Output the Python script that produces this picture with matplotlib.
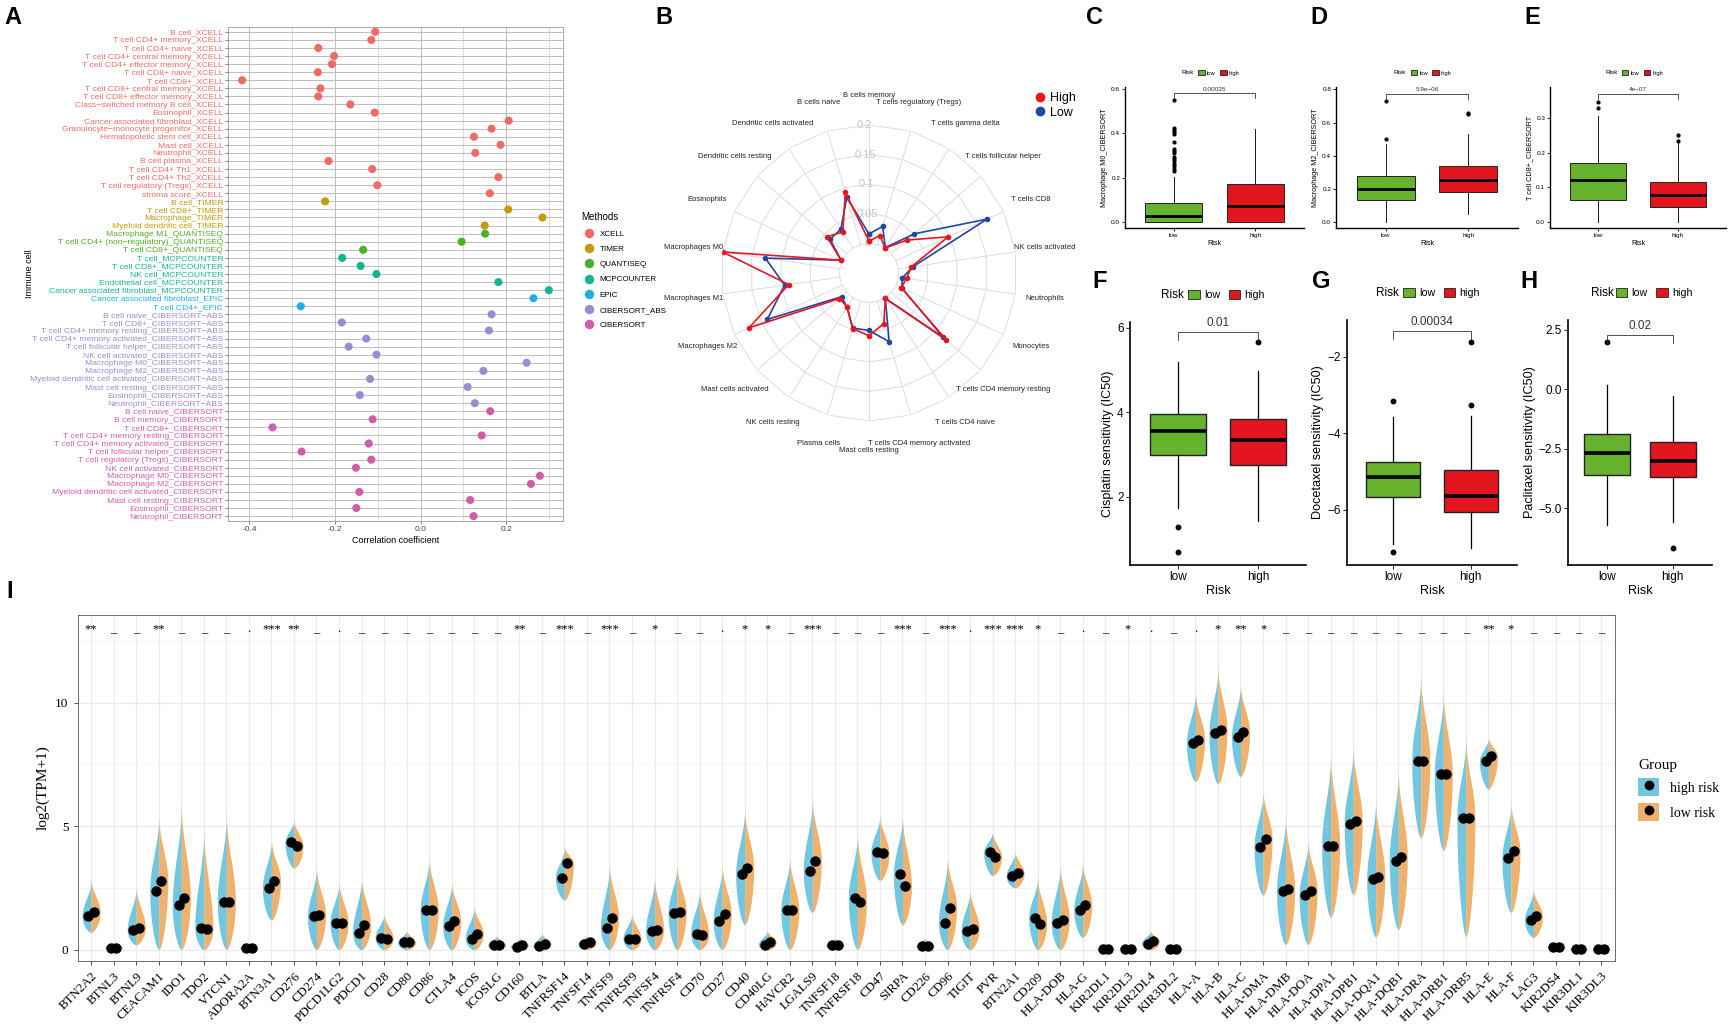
import numpy as np
import matplotlib
matplotlib.use("Agg")
import matplotlib.pyplot as plt
from matplotlib.lines import Line2D
from matplotlib.patches import Patch

W, H = 1733, 1036
SANS = "Liberation Sans"
SERIF = "Liberation Serif"
plt.rcParams["font.family"] = [SANS, "DejaVu Sans"]

# ---------------- panel A: risk score vs immune infiltration ----------------
xcell_cells = ["B cell", "T cell CD4+ memory", "T cell CD4+ naive", "T cell CD4+ central memory",
               "T cell CD4+ effector memory", "T cell CD8+ naive", "T cell CD8+",
               "T cell CD8+ central memory", "T cell CD8+ effector memory",
               "Class-switched memory B cell", "Eosinophil", "Cancer associated fibroblast",
               "Granulocyte-monocyte progenitor", "Hematopoietic stem cell", "Mast cell",
               "Neutrophil", "B cell plasma", "T cell CD4+ Th1", "T cell CD4+ Th2",
               "T cell regulatory (Tregs)", "stroma score"]
xcell_r = [-0.106, -0.115, -0.239, -0.202, -0.207, -0.240, -0.417, -0.234, -0.239, -0.164,
           -0.107, 0.206, 0.166, 0.125, 0.187, 0.128, -0.215, -0.113, 0.182, -0.101, 0.162]
timer_cells = ["B cell", "T cell CD8+", "Macrophage", "Myeloid dendritic cell"]
timer_r = [-0.223, 0.205, 0.285, 0.150]
quant_cells = ["Macrophage M1", "T cell CD4+ (non-regulatory)", "T cell CD8+"]
quant_r = [0.151, 0.096, -0.134]
mcp_cells = ["T cell", "T cell CD8+", "NK cell", "Endothelial cell", "Cancer associated fibroblast"]
mcp_r = [-0.183, -0.140, -0.103, 0.182, 0.300]
epic_cells = ["Cancer associated fibroblast", "T cell CD4+"]
epic_r = [0.264, -0.280]
abs_cells = ["B cell naive", "T cell CD8+", "T cell CD4+ memory resting",
             "T cell CD4+ memory activated", "T cell follicular helper", "NK cell activated",
             "Macrophage M0", "Macrophage M2", "Myeloid dendritic cell activated",
             "Mast cell resting", "Eosinophil", "Neutrophil"]
abs_r = [0.166, -0.184, 0.160, -0.127, -0.168, -0.103, 0.248, 0.147, -0.118, 0.110, -0.142, 0.127]
cib_cells = ["B cell naive", "B cell memory", "T cell CD8+", "T cell CD4+ memory resting",
             "T cell CD4+ memory activated", "T cell follicular helper",
             "T cell regulatory (Tregs)", "NK cell activated", "Macrophage M0", "Macrophage M2",
             "Myeloid dendritic cell activated", "Mast cell resting", "Eosinophil", "Neutrophil"]
cib_r = [0.163, -0.112, -0.346, 0.143, -0.121, -0.278, -0.115, -0.151, 0.279, 0.258, -0.143,
         0.116, -0.150, 0.124]

methods = ["XCELL", "TIMER", "QUANTISEQ", "MCPCOUNTER", "EPIC", "CIBERSORT-ABS", "CIBERSORT"]
method_legend = ["XCELL", "TIMER", "QUANTISEQ", "MCPCOUNTER", "EPIC", "CIBERSORT_ABS", "CIBERSORT"]
method_colors = ["#EE6C65", "#C39A0A", "#4FAE2A", "#14B58E", "#1DB1E2", "#9D8BD2", "#D05DAA"]
method_data = [(xcell_cells, xcell_r), (timer_cells, timer_r), (quant_cells, quant_r),
               (mcp_cells, mcp_r), (epic_cells, epic_r), (abs_cells, abs_r), (cib_cells, cib_r)]

# ---------------- panel B: CIBERSORT radar ----------------
radar_cells = ["B cells memory", "T cells regulatory (Tregs)", "T cells gamma delta",
               "T cells follicular helper", "T cells CD8", "NK cells activated", "Neutrophils",
               "Monocytes", "T cells CD4 memory resting", "T cells CD4 naive",
               "T cells CD4 memory activated", "Mast cells resting", "Plasma cells",
               "NK cells resting", "Mast cells activated", "Macrophages M2", "Macrophages M1",
               "Macrophages M0", "Eosinophils", "Dendritic cells resting",
               "Dendritic cells activated", "B cells naive"]
radar_high = [0.004, 0.016, 0.000, 0.035, 0.097, 0.022, 0.014, 0.010, 0.123, 0.001, 0.039,
              0.056, 0.048, 0.018, 0.016, 0.173, 0.087, 0.200, 0.002, 0.044, 0.032, 0.092]
radar_low = [0.016, 0.032, 0.001, 0.051, 0.169, 0.025, 0.007, 0.011, 0.116, 0.001, 0.071,
             0.047, 0.047, 0.019, 0.011, 0.139, 0.094, 0.127, 0.002, 0.037, 0.038, 0.083]
radar_rings = [0, 0.05, 0.1, 0.15, 0.2]

# ---------------- panels C-H: boxplots (whislo, q1, med, q3, whishi) ----------------
risk_groups = ["low", "high"]
c_low, c_low_out = [0.0, 0.0, 0.025, 0.086, 0.203], [0.55, 0.425, 0.415, 0.405, 0.395, 0.36, 0.33,
                                                     0.32, 0.31, 0.295, 0.285, 0.275, 0.26, 0.25,
                                                     0.24, 0.23]
c_high, c_high_out = [0.0, 0.0, 0.072, 0.170, 0.418], []
d_low, d_low_out = [0.0, 0.132, 0.199, 0.275, 0.469], [0.50, 0.73]
d_high, d_high_out = [0.046, 0.182, 0.251, 0.337, 0.533], [0.65, 0.66]
e_low, e_low_out = [0.0, 0.064, 0.121, 0.169, 0.307], [0.329, 0.348]
e_high, e_high_out = [0.0, 0.042, 0.077, 0.115, 0.227], [0.233, 0.252]
f_low, f_low_out = [1.74, 3.00, 3.55, 3.95, 5.19], [1.29, 0.70]
f_high, f_high_out = [1.43, 2.76, 3.34, 3.83, 4.97], [5.65]
g_low, g_low_out = [-6.90, -5.67, -5.13, -4.74, -3.57], [-3.15, -7.10]
g_high, g_high_out = [-7.00, -6.06, -5.63, -4.96, -3.55], [-3.26, -1.61]
h_low, h_low_out = [-5.70, -3.60, -2.70, -1.90, 0.20], [2.00]
h_high, h_high_out = [-5.60, -3.70, -3.00, -2.20, -0.30], [-6.70]

# ---------------- panel I: immune checkpoint expression ----------------
genes = ["BTN2A2", "BTNL3", "BTNL9", "CEACAM1", "IDO1", "TDO2", "VTCN1", "ADORA2A", "BTN3A1",
         "CD276", "CD274", "PDCD1LG2", "PDCD1", "CD28", "CD80", "CD86", "CTLA4", "ICOS",
         "ICOSLG", "CD160", "BTLA", "TNFRSF14", "TNFSF14", "TNFSF9", "TNFRSF9", "TNFSF4",
         "TNFRSF4", "CD70", "CD27", "CD40", "CD40LG", "HAVCR2", "LGALS9", "TNFSF18",
         "TNFRSF18", "CD47", "SIRPA", "CD226", "CD96", "TIGIT", "PVR", "BTN2A1", "CD209",
         "HLA-DOB", "HLA-G", "KIR2DL1", "KIR2DL3", "KIR2DL4", "KIR3DL2", "HLA-A", "HLA-B",
         "HLA-C", "HLA-DMA", "HLA-DMB", "HLA-DOA", "HLA-DPA1", "HLA-DPB1", "HLA-DQA1",
         "HLA-DQB1", "HLA-DRA", "HLA-DRB1", "HLA-DRB5", "HLA-E", "HLA-F", "LAG3", "KIR2DS4",
         "KIR3DL1", "KIR3DL3"]
med_high = [1.35, 0.09, 0.80, 2.40, 1.80, 0.90, 1.95, 0.07, 2.50, 4.35, 1.35, 1.10, 0.70, 0.50,
            0.30, 1.60, 0.95, 0.45, 0.20, 0.12, 0.15, 2.90, 0.25, 0.90, 0.45, 0.75, 1.50, 0.65,
            1.15, 3.05, 0.20, 1.60, 3.20, 0.18, 2.10, 3.95, 3.05, 0.15, 1.10, 0.75, 3.95, 3.00,
            1.30, 1.10, 1.60, 0.05, 0.05, 0.25, 0.05, 8.35, 8.75, 8.60, 4.15, 2.40, 2.20, 4.20,
            5.10, 2.85, 3.60, 7.65, 7.10, 5.35, 7.65, 3.70, 1.20, 0.10, 0.05, 0.05]
med_low = [1.53, 0.09, 0.90, 2.80, 2.10, 0.85, 1.95, 0.07, 2.80, 4.20, 1.40, 1.10, 1.00, 0.45,
           0.30, 1.60, 1.15, 0.65, 0.20, 0.18, 0.22, 3.50, 0.30, 1.30, 0.45, 0.80, 1.55, 0.60,
           1.45, 3.30, 0.30, 1.60, 3.60, 0.18, 1.95, 3.90, 2.60, 0.15, 1.70, 0.85, 3.75, 3.10,
           1.05, 1.20, 1.80, 0.05, 0.05, 0.35, 0.05, 8.50, 8.90, 8.80, 4.50, 2.45, 2.40, 4.20,
           5.20, 2.95, 3.75, 7.65, 7.10, 5.35, 7.85, 4.00, 1.35, 0.10, 0.05, 0.05]
vio_lo = [0.7, 0.0, 0.2, 0.0, 0.0, 0.0, 0.0, 0.0, 1.2, 3.3, 0.0, 0.0, 0.0, 0.0, 0.0, 0.0, 0.0,
          0.0, 0.0, 0.0, 0.0, 2.0, 0.0, 0.0, 0.0, 0.0, 0.0, 0.0, 0.0, 1.0, 0.0, 0.0, 1.5, 0.0,
          0.0, 2.8, 1.0, 0.0, 0.0, 0.0, 3.0, 2.5, 0.0, 0.0, 0.5, 0.0, 0.0, 0.0, 0.0, 6.8, 6.7,
          7.0, 2.2, 0.2, 0.2, 1.3, 2.2, 0.5, 0.8, 4.5, 4.0, 0.5, 6.5, 1.5, 0.5, 0.0, 0.0, 0.0]
vio_hi = [2.9, 0.3, 2.6, 5.5, 6.0, 5.0, 5.6, 0.3, 4.5, 5.3, 3.4, 2.8, 3.0, 1.5, 0.8, 3.8, 2.8,
          1.8, 0.6, 0.5, 0.7, 4.2, 0.6, 3.5, 1.5, 3.0, 3.5, 2.5, 3.5, 5.8, 0.8, 3.8, 6.2, 0.5,
          4.8, 5.5, 5.5, 0.5, 3.8, 2.5, 4.8, 4.0, 3.0, 3.5, 3.6, 0.1, 0.1, 0.8, 0.15, 10.5,
          11.5, 10.8, 6.5, 5.5, 4.5, 8.0, 8.3, 6.2, 7.4, 11.2, 10.5, 8.7, 8.6, 6.0, 2.5, 0.3,
          0.2, 0.1]
sig = ["**", "_", "_", "**", "_", "_", "_", ".", "***", "**", "_", ".", "_", "_", "_", "_", "_",
       "_", "_", "**", "_", "***", "_", "***", "_", "*", "_", "_", ".", "*", "*", "_", "***",
       "_", "_", "_", "***", "_", "***", ".", "***", "***", "*", "_", ".", "_", "*", ".", "_",
       ".", "*", "**", "*", "_", "_", "_", "_", "_", "_", "_", "_", "_", "**", "*", "_", "_",
       "_", "_"]

GREEN, RED = "#67B22D", "#E3161F"
BLUE_I, ORANGE_I = "#72C6E0", "#EEB26E"

fig = plt.figure(figsize=(W / 100, H / 100), dpi=100)


def add_ax(x0, y0, x1, y1, **kw):
    return fig.add_axes([x0 / W, 1 - y1 / H, (x1 - x0) / W, (y1 - y0) / H], **kw)


def letter(x, y, s):
    fig.text(x / W, 1 - y / H, s, fontsize=17, fontweight="bold", ha="left", va="center")


# ---------------- A ----------------
ax = add_ax(228, 27, 563, 521)
labels, vals, cols = [], [], []
for m, c, (cells, r) in zip(methods, method_colors, method_data):
    labels += [f"{cell}_{m}".replace("-", "\u2212") for cell in cells]
    vals += r
    cols += [c] * len(cells)
n = len(labels)
ypos = np.arange(n, 0, -1)
ax.scatter(vals, ypos, s=34, c=cols, zorder=3, linewidths=0)
ax.set_ylim(0.4, n + 0.6)
ax.set_xlim(-0.45, 0.333)
ax.set_yticks(ypos)
ax.set_yticklabels(labels, fontsize=6.1)
for t, c in zip(ax.get_yticklabels(), cols):
    t.set_color(c)
ax.set_xticks([-0.4, -0.2, 0.0, 0.2])
ax.set_xticklabels(["-0.4", "-0.2", "0.0", "0.2"], fontsize=6, color="#444444")
ax.set_xticks([-0.3, -0.1, 0.1, 0.3], minor=True)
ax.tick_params(axis="both", length=2, width=0.5, color="#555555", pad=1.5)
ax.tick_params(axis="x", which="minor", length=0)
ax.grid(which="major", color="#BDBDBD", lw=0.7)
ax.grid(which="minor", axis="x", color="#D6D6D6", lw=0.6)
ax.set_axisbelow(True)
for s in ax.spines.values():
    s.set_color("#999999")
    s.set_linewidth(0.6)
ax.set_xlabel("Correlation coefficient", fontsize=6.5, labelpad=2)
fig.text(30 / W, 1 - 274 / H, "Immune cell", rotation=90, fontsize=6.5, ha="center", va="center")
handles = [Line2D([], [], marker="o", ls="", color=c, ms=5.8) for c in method_colors]
fig.legend(handles, method_legend, title="Methods", loc="upper left",
           bbox_to_anchor=(574 / W, 1 - 205 / H), frameon=False, fontsize=5.8,
           title_fontsize=7, labelspacing=0.95, handletextpad=0.3, alignment="left")
letter(4, 17, "A")

# ---------------- B ----------------
cx, cy, R = 869, 273, 148
axb = add_ax(cx - R, cy - R, cx + R, cy + R, projection="polar")
axb.set_theta_zero_location("N")
axb.set_theta_direction(-1)
axb.set_ylim(-0.05, 0.2)
theta = np.linspace(0, 2 * np.pi, len(radar_cells), endpoint=False)
tclose = np.r_[theta, theta[0]]
for v in radar_rings:
    axb.plot(tclose, [v] * len(tclose), color="#DCDCDC", lw=0.7, zorder=1)
for t in theta:
    axb.plot([t, t], [0, 0.2], color="#DCDCDC", lw=0.7, zorder=1)
for v in radar_rings:
    axb.text(-0.03, v, f"{v:g}", color="#C4C4C4", fontsize=8, ha="center", va="center",
             zorder=2)
for t, name in zip(theta, radar_cells):
    axb.text(t, 0.25, name, fontsize=5.5, ha="center", va="center", color="#222222")
axb.plot(tclose, np.r_[radar_low, radar_low[0]], color="#2146A3", lw=1.2, marker="o", ms=3,
         zorder=3)
axb.plot(tclose, np.r_[radar_high, radar_high[0]], color="#E8161E", lw=1.2, marker="o", ms=3,
         zorder=4)
axb.set_xticks([])
axb.set_yticks([])
axb.grid(False)
axb.spines["polar"].set_visible(False)
axb.set_facecolor("none")
fig.legend([Line2D([], [], marker="o", ls="", color="#E8161E", ms=6),
            Line2D([], [], marker="o", ls="", color="#2146A3", ms=6)], ["High", "Low"],
           loc="upper left", bbox_to_anchor=(1021 / W, 1 - 81 / H), frameon=False, fontsize=9,
           labelspacing=0.2, handletextpad=0.2, handlelength=1.2)
letter(655, 17, "B")


# ---------------- C-H ----------------
def risk_box(box, low, low_out, high, high_out, ylim, yticks, ylabel, pval, pbar, small):
    axx = add_ax(*box)
    stats = []
    for q, out in ((low, low_out), (high, high_out)):
        stats.append(dict(whislo=q[0], q1=q[1], med=q[2], q3=q[3], whishi=q[4], fliers=out))
    fs = 4.6 if small else 8.5
    lw = 0.7 if small else 1.0
    bp = axx.bxp(stats, positions=[1, 2], widths=0.7, patch_artist=True, showcaps=False,
                 boxprops=dict(lw=lw, edgecolor="#222222"),
                 medianprops=dict(color="black", lw=2.0 if small else 2.6),
                 whiskerprops=dict(lw=lw * 0.9),
                 flierprops=dict(marker="o", mfc="black", mec="black",
                                 ms=2.0 if small else 3.2))
    for p, c in zip(bp["boxes"], (GREEN, RED)):
        p.set_facecolor(c)
    axx.set_xlim(0.4, 2.6)
    axx.set_ylim(*ylim)
    axx.set_xticks([1, 2])
    axx.set_xticklabels(risk_groups)
    axx.set_yticks(yticks)
    axx.tick_params(labelsize=fs, length=2 if small else 3, width=0.6, pad=1.5)
    for s in ("top", "right"):
        axx.spines[s].set_visible(False)
    for s in ("left", "bottom"):
        axx.spines[s].set_linewidth(1.0 if small else 1.2)
    axx.set_ylabel(ylabel, fontsize=fs + 0.6, labelpad=2)
    axx.set_xlabel("Risk", fontsize=fs + 0.6, labelpad=1.5)
    d = (ylim[1] - ylim[0]) * 0.035
    axx.plot([1, 1, 2, 2], [pbar - d, pbar, pbar, pbar - d], color="#333333", lw=0.6,
             clip_on=False)
    axx.text(1.5, pbar + d * 0.3, pval, ha="center", va="bottom", fontsize=fs, color="#333333")
    ly = 1.1 if small else 1.11
    lx = 0.35 if small else 0.24
    axx.text(lx, ly, "Risk", transform=axx.transAxes, fontsize=fs, ha="center", va="center")
    axx.legend([Patch(fc=GREEN, ec="#222222", lw=0.6), Patch(fc=RED, ec="#222222", lw=0.6)],
               risk_groups, loc="center left", bbox_to_anchor=(lx + (0.06 if small else 0.09), ly),
               ncol=2, frameon=False, fontsize=fs * 0.9, handlelength=1.1, handleheight=0.9,
               handletextpad=0.4, columnspacing=0.8, borderaxespad=0, borderpad=0)
    return axx


risk_box((1125, 87, 1304, 228), c_low, c_low_out, c_high, c_high_out, (-0.028, 0.609),
         [0.0, 0.2, 0.4, 0.6], "Macrophage M0_CIBERSORT", "0.00035", 0.58, True)
risk_box((1336, 87, 1518, 228), d_low, d_low_out, d_high, d_high_out, (-0.038, 0.815),
         [0.0, 0.2, 0.4, 0.6, 0.8], "Macrophage M2_CIBERSORT", "5.9e\u221206", 0.775, True)
risk_box((1550, 87, 1726, 228), e_low, e_low_out, e_high, e_high_out, (-0.018, 0.39),
         [0.0, 0.1, 0.2, 0.3], "T cell CD8+_CIBERSORT", "4e\u221207", 0.37, True)
risk_box((1130, 322, 1306, 565), f_low, f_low_out, f_high, f_high_out, (0.39, 6.13),
         [2, 4, 6], "Cisplatin sensitivity (IC50)", "0.01", 5.9, False)
risk_box((1347, 320, 1517, 565), g_low, g_low_out, g_high, g_high_out, (-7.44, -1.04),
         [-6, -4, -2], "Docetaxel sensitivity (IC50)", "0.00034", -1.32, False)
axh = risk_box((1568, 320, 1712, 565), h_low, h_low_out, h_high, h_high_out, (-7.4, 2.92),
               [-5.0, -2.5, 0.0, 2.5], "Paclitaxel sensitivity (IC50)", "0.02", 2.3, False)
axh.set_yticklabels(["\u22125.0", "\u22122.5", "0.0", "2.5"])
letter(1086, 17, "C")
letter(1310, 17, "D")
letter(1524, 17, "E")
letter(1092, 282, "F")
letter(1312, 282, "G")
letter(1520, 282, "H")

# ---------------- I ----------------
axi = add_ax(77.6, 615, 1614.6, 961)


def half_profile(lo, med, hi, hw=0.4):
    med = min(max(med, lo), hi)
    t1 = np.linspace(0, 1, 24)
    t2 = np.linspace(0, 1, 48)[1:]
    y = np.r_[lo + (med - lo) * t1, med + (hi - med) * t2]
    w = np.r_[np.sin(np.pi / 2 * t1) ** 0.6, np.cos(np.pi / 2 * t2) ** 2.2]
    return y, hw * w


xs = np.arange(1, len(genes) + 1)
for x, lo, hi, mh, ml in zip(xs, vio_lo, vio_hi, med_high, med_low):
    for side, med, col in ((-1, mh, BLUE_I), (1, ml, ORANGE_I)):
        y, w = half_profile(lo, med, hi)
        axi.fill_betweenx(y, x, x + side * w, color=col, lw=0, zorder=2)
    axi.plot([x - 0.12, x + 0.12], [mh, ml], "o", color="black", ms=6.5, zorder=3)
for x, s in zip(xs, sig):
    axi.text(x, 12.85, s, ha="center", va="baseline", fontsize=9, family=SERIF)
axi.set_xlim(0.4, len(genes) + 0.6)
axi.set_ylim(-0.45, 13.54)
axi.set_xticks(xs)
axi.set_xticklabels(genes, rotation=45, ha="right", rotation_mode="anchor", fontsize=9.3,
                    family=SERIF)
axi.set_yticks([0, 5, 10])
axi.set_yticklabels(["0", "5", "10"], fontsize=9.5, family=SERIF)
axi.set_yticks([2.5, 7.5, 12.5], minor=True)
axi.tick_params(axis="both", length=3, width=0.6, color="#333333")
axi.tick_params(axis="y", which="minor", length=0)
axi.grid(which="major", color="#EBEBEB", lw=0.9)
axi.grid(which="minor", axis="y", color="#F2F2F2", lw=0.6)
axi.set_axisbelow(True)
for s in axi.spines.values():
    s.set_color("#555555")
    s.set_linewidth(0.6)
axi.set_ylabel("log2(TPM+1)", fontsize=11, family=SERIF, labelpad=4)
dot = Line2D([], [], marker="o", ls="", color="black", ms=6)
fig.legend([(Patch(fc=BLUE_I, ec="none"), dot), (Patch(fc=ORANGE_I, ec="none"), dot)],
           ["high risk", "low risk"], title="Group", loc="upper left",
           bbox_to_anchor=(1626 / W, 1 - 746 / H), frameon=False,
           prop=dict(family=SERIF, size=10), title_fontproperties=dict(family=SERIF, size=11),
           handlelength=1.5, handleheight=1.6, labelspacing=0.5, alignment="left")
letter(6, 591, "I")

fig.savefig("out.png", dpi=100)
